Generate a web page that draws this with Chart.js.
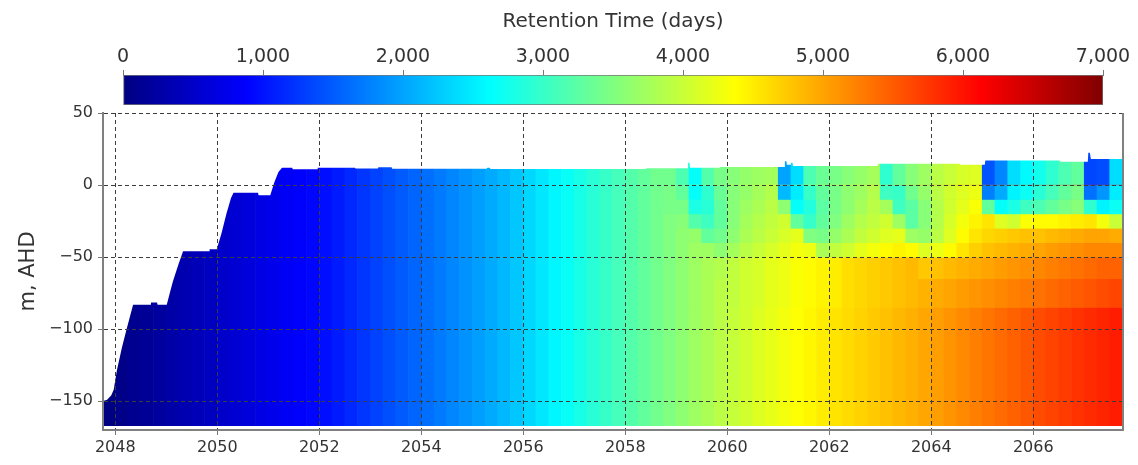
<!DOCTYPE html>
<html>
<head>
<meta charset="utf-8">
<script src="https://cdn.jsdelivr.net/npm/chart.js@4.4.1/dist/chart.umd.min.js"></script>
<style>
  html, body { margin: 0; padding: 0; background: #fff; }
  #wrap { position: relative; width: 1138px; height: 465px; }
  #main, #bar { position: absolute; left: 0; top: 0; }
</style>
</head>
<body>
<div id="wrap">
  <canvas id="main" width="1138" height="465"></canvas>
  <canvas id="bar" width="1138" height="110"></canvas>
</div>
<script>
const FONT = "DejaVu Sans";
const TEXT = "#333";
const CB_MAX = 7000;

// colour bar ticks and axis ticks
const cbTicks = [0, 1000, 2000, 3000, 4000, 5000, 6000, 7000];
const xTicks = [2048, 2050, 2052, 2054, 2056, 2058, 2060, 2062, 2064, 2066];
const yTicks = [-150, -100, -50, 0, 50];

// deep water column: one column per quarter year, retention time (days)
const baseYears = [
  2047.875, 2048.125, 2048.375, 2048.625, 2048.875, 2049.125, 2049.375, 2049.625, 2049.875, 2050.125,
  2050.375, 2050.625, 2050.875, 2051.125, 2051.375, 2051.625, 2051.875, 2052.125, 2052.375, 2052.625,
  2052.875, 2053.125, 2053.375, 2053.625, 2053.875, 2054.125, 2054.375, 2054.625, 2054.875, 2055.125,
  2055.375, 2055.625, 2055.875, 2056.125, 2056.375, 2056.625, 2056.875, 2057.125, 2057.375, 2057.625,
  2057.875, 2058.125, 2058.375, 2058.625, 2058.875, 2059.125, 2059.375, 2059.625, 2059.875, 2060.125,
  2060.375, 2060.625, 2060.875, 2061.125, 2061.375, 2061.625, 2061.875, 2062.125, 2062.375, 2062.625,
  2062.875, 2063.125, 2063.375, 2063.625, 2063.875, 2064.125, 2064.375, 2064.625, 2064.875, 2065.125,
  2065.375, 2065.625, 2065.875, 2066.125, 2066.375, 2066.625, 2066.875, 2067.125, 2067.375, 2067.625,
];
const baseAge = [
  20, 60, 110, 160, 215, 270, 330, 390, 450, 510,
  570, 630, 690, 750, 810, 860, 910, 970, 1050, 1140,
  1230, 1330, 1420, 1500, 1570, 1640, 1720, 1800, 1880, 1960,
  2050, 2140, 2240, 2350, 2460, 2570, 2680, 2790, 2900, 3000,
  3100, 3200, 3300, 3400, 3500, 3600, 3700, 3800, 3900, 3980,
  4060, 4140, 4220, 4290, 4360, 4430, 4500, 4560, 4620, 4680,
  4740, 4800, 4860, 4920, 4980, 5040, 5110, 5180, 5250, 5320,
  5390, 5460, 5530, 5600, 5660, 5720, 5780, 5830, 5880, 5930,
];
const BASE_BOTTOM = -167;
const BASE_TOP = 25;

// upper layers after the inflow events start (2058.75 onwards)
const layerYears = baseYears.slice(44);
const layerTop = [25, 0, -10, -20, -30, -40, -50, -65];
const layerBottom = [0, -10, -20, -30, -40, -50, -65, -85];
const ageSurf = [3400, 3150, 2650, 3200, 3450, 3550, 3650, 3700, 3750, 2000, 2400, 3150, 3350, 3450, 3550, 3650, 3750, 2950, 3300, 3550, 3700, 3900, 4000, 4100, 4150, 1450, 1800, 2400, 2600, 2750, 2950, 3150, 3300, 1350, 1400, 2400];
const age10 = [3450, 3300, 2650, 2950, 3350, 3550, 3650, 3750, 3850, 2150, 2500, 3000, 3300, 3450, 3600, 3700, 3850, 3050, 3000, 3400, 3650, 3900, 4050, 4150, 4250, 1750, 2050, 2550, 2700, 2900, 3100, 3300, 3450, 1650, 1900, 2500];
const age20 = [3450, 3450, 2800, 2900, 3300, 3550, 3700, 3800, 3900, 3600, 2650, 2850, 3250, 3450, 3600, 3750, 3900, 3750, 3050, 3250, 3550, 3850, 4050, 4200, 4350, 3300, 2650, 2800, 3050, 3150, 3300, 3450, 3550, 2950, 2550, 2700];
const age30 = [3500, 3550, 3200, 3050, 3300, 3550, 3750, 3850, 3950, 4050, 3300, 3000, 3300, 3500, 3700, 3850, 3950, 4050, 3700, 3250, 3550, 3850, 4100, 4300, 4450, 4550, 4150, 4050, 4350, 4400, 4400, 4450, 4500, 4550, 4300, 4000];
const age40 = [3500, 3600, 3650, 3300, 3400, 3600, 3800, 3900, 4000, 4100, 4200, 3500, 3450, 3650, 3800, 3950, 4050, 4150, 4200, 3700, 3650, 3900, 4150, 4400, 4550, 4650, 4700, 4750, 4800, 4800, 4850, 4900, 4950, 5000, 5000, 4950];
const age50 = [3500, 3600, 3700, 3700, 3600, 3750, 3900, 4000, 4100, 4200, 4300, 4250, 3800, 3950, 4050, 4200, 4300, 4400, 4450, 4400, 4150, 4250, 4400, 4550, 4700, 4800, 4850, 4900, 4950, 5000, 5050, 5100, 5150, 5200, 5200, 5200];
const age65 = [3500, 3600, 3700, 3800, 3850, 3950, 4050, 4100, 4200, 4250, 4350, 4400, 4450, 4500, 4600, 4650, 4700, 4750, 4800, 4850, 4750, 4800, 4850, 4900, 4950, 5000, 5050, 5100, 5150, 5200, 5250, 5300, 5350, 5400, 5450, 5450];
const age85 = [3500, 3600, 3700, 3800, 3900, 3950, 4050, 4100, 4200, 4250, 4350, 4400, 4450, 4500, 4600, 4650, 4700, 4750, 4800, 4850, 4900, 4950, 5000, 5050, 5100, 5150, 5200, 5250, 5300, 5350, 5400, 5450, 5500, 5550, 5600, 5650];
const layerAges = [ageSurf, age10, age20, age30, age40, age50, age65, age85];

// lake surface (m AHD); everything above it is blank
const surfYears = [
  2047.70, 2047.84, 2047.92, 2047.97, 2048.03, 2048.13, 2048.23, 2048.35, 2048.69, 2048.70,
  2048.82, 2048.83, 2049.01, 2049.07, 2049.13, 2049.24, 2049.33, 2049.84, 2049.85, 2049.99,
  2050.08, 2050.18, 2050.27, 2050.32, 2050.80, 2050.81, 2051.04, 2051.12, 2051.20, 2051.27,
  2051.47, 2051.48, 2051.96, 2051.97, 2052.70, 2052.71, 2053.15, 2053.16, 2053.42, 2053.43,
  2055.28, 2055.30, 2055.34, 2055.36, 2058.40, 2058.42, 2059.22, 2059.23, 2059.26, 2059.27,
  2059.85, 2059.86, 2061.12, 2061.13, 2061.16, 2061.17, 2061.24, 2061.25, 2061.28, 2061.29,
  2062.95, 2062.96, 2064.56, 2064.57, 2065.05, 2065.06, 2066.52, 2066.53, 2067.07, 2067.08,
  2067.11, 2067.13, 2067.80,
];
const surfLevel = [
  -150.5, -149, -146, -142, -129, -113, -99, -83, -83, -81.5,
  -81.5, -83, -83, -75, -67, -55, -46, -46, -44.5, -44.5,
  -34, -20, -9, -5.3, -5.3, -7, -7, 2, 9, 12,
  12, 11, 11, 12, 12, 11.5, 11.5, 12.3, 12.3, 11.3,
  11.3, 12, 12, 11.2, 11.2, 11.7, 11.7, 15.5, 15.5, 12,
  12, 12.6, 12.6, 16.5, 16.5, 14, 14, 15.5, 15.5, 13.2,
  13.2, 14.8, 14.8, 14, 14, 17, 17, 16.2, 16.2, 22.5,
  22.5, 18, 18,
];

function jet(v) {
  const t = v / CB_MAX;
  const ch = (c) => Math.round(255 * Math.max(0, Math.min(1, 1.5 - Math.abs(4 * t - c))));
  return `rgb(${ch(3)},${ch(2)},${ch(1)})`;
}

// numbers with a real minus sign
const signed = (v) => (v < 0 ? "\u2212" + Math.abs(v) : String(v));

const datasets = [
  {
    type: "line",
    label: "surface",
    data: surfYears.map((x, i) => ({ x, y: surfLevel[i] })),
    fill: "end",
    backgroundColor: "#fff",
    borderWidth: 0,
    pointRadius: 0,
    order: 0,
  },
];

layerAges.forEach((ages, i) => {
  datasets.push({
    label: `layer ${layerTop[i]}`,
    data: layerYears.map((x) => ({ x, y: [layerBottom[i], layerTop[i]] })),
    backgroundColor: ages.map(jet),
    borderWidth: 0,
    order: 1,
  });
});

datasets.push({
  label: "base",
  data: baseYears.map((x) => ({ x, y: [BASE_BOTTOM, BASE_TOP] })),
  backgroundColor: baseAge.map(jet),
  borderWidth: 0,
  order: 2,
});

// right-hand edge of the plot frame
const frameRight = {
  id: "frameRight",
  afterDraw(chart) {
    const { ctx, chartArea: a } = chart;
    ctx.save();
    ctx.strokeStyle = "#808080";
    ctx.lineWidth = 2;
    ctx.beginPath();
    ctx.moveTo(a.right, a.top);
    ctx.lineTo(a.right, a.bottom + 1);
    ctx.stroke();
    ctx.restore();
  },
};

const gridOpts = { color: "#3c3c3c", z: 1, tickLength: 5, tickColor: "#777", offset: false };
const borderOpts = { color: "#808080", width: 2, dash: [4, 3], z: 2 };

new Chart(document.getElementById("main"), {
  type: "bar",
  data: { datasets },
  options: {
    responsive: false,
    animation: false,
    grouped: false,
    barPercentage: 1,
    categoryPercentage: 1,
    layout: { padding: { left: 0, top: 113, right: 15, bottom: 0 } },
    plugins: { legend: { display: false }, tooltip: { enabled: false } },
    scales: {
      x: {
        type: "linear",
        min: 2047.76,
        max: 2067.76,
        offset: false,
        afterBuildTicks: (s) => { s.ticks = xTicks.map((value) => ({ value })); },
        afterFit: (s) => { s.height = 35; },
        ticks: { callback: (v) => String(v), color: TEXT, font: { family: FONT, size: 16 }, padding: 3, maxRotation: 0 },
        grid: gridOpts,
        border: borderOpts,
      },
      y: {
        min: -170,
        max: 50,
        afterBuildTicks: (s) => { s.ticks = yTicks.map((value) => ({ value })); },
        afterFit: (s) => { s.width = 103; },
        ticks: { callback: signed, color: TEXT, font: { family: FONT, size: 16 }, padding: 5 },
        grid: gridOpts,
        border: borderOpts,
        title: { display: true, text: "m, AHD", color: TEXT, font: { family: FONT, size: 21 }, padding: { top: 16, bottom: 0 } },
      },
    },
  },
  plugins: [frameRight],
});

// colour bar
new Chart(document.getElementById("bar"), {
  type: "bar",
  data: {
    labels: ["Retention Time"],
    datasets: [{
      data: [[0, CB_MAX]],
      backgroundColor: (c) => {
        const { chart } = c;
        if (!chart.chartArea) return jet(0);
        const xs = chart.scales.x;
        const g = chart.ctx.createLinearGradient(xs.getPixelForValue(0), 0, xs.getPixelForValue(CB_MAX), 0);
        [0, 0.125, 0.375, 0.625, 0.875, 1].forEach((s) => g.addColorStop(s, jet(s * CB_MAX)));
        return g;
      },
      borderWidth: 1,
      borderColor: "#777",
      borderSkipped: false,
      barPercentage: 1,
      categoryPercentage: 1,
    }],
  },
  options: {
    indexAxis: "y",
    responsive: false,
    animation: false,
    layout: { padding: { left: 123, right: 35, top: 0, bottom: 5 } },
    plugins: { legend: { display: false }, tooltip: { enabled: false } },
    scales: {
      x: {
        position: "top",
        min: 0,
        max: CB_MAX,
        afterBuildTicks: (s) => { s.ticks = cbTicks.map((value) => ({ value })); },
        afterFit: (s) => { s.height = 75; },
        ticks: { callback: (v) => v.toLocaleString("en-US"), color: TEXT, font: { family: FONT, size: 19 }, padding: 2, maxRotation: 0 },
        grid: { drawOnChartArea: false, tickLength: 5, tickColor: "#777" },
        border: { color: "#777" },
        title: { display: true, text: "Retention Time (days)", color: TEXT, font: { family: FONT, size: 20 }, padding: { top: 10, bottom: 0 } },
      },
      y: { display: false },
    },
  },
});
</script>
</body>
</html>
